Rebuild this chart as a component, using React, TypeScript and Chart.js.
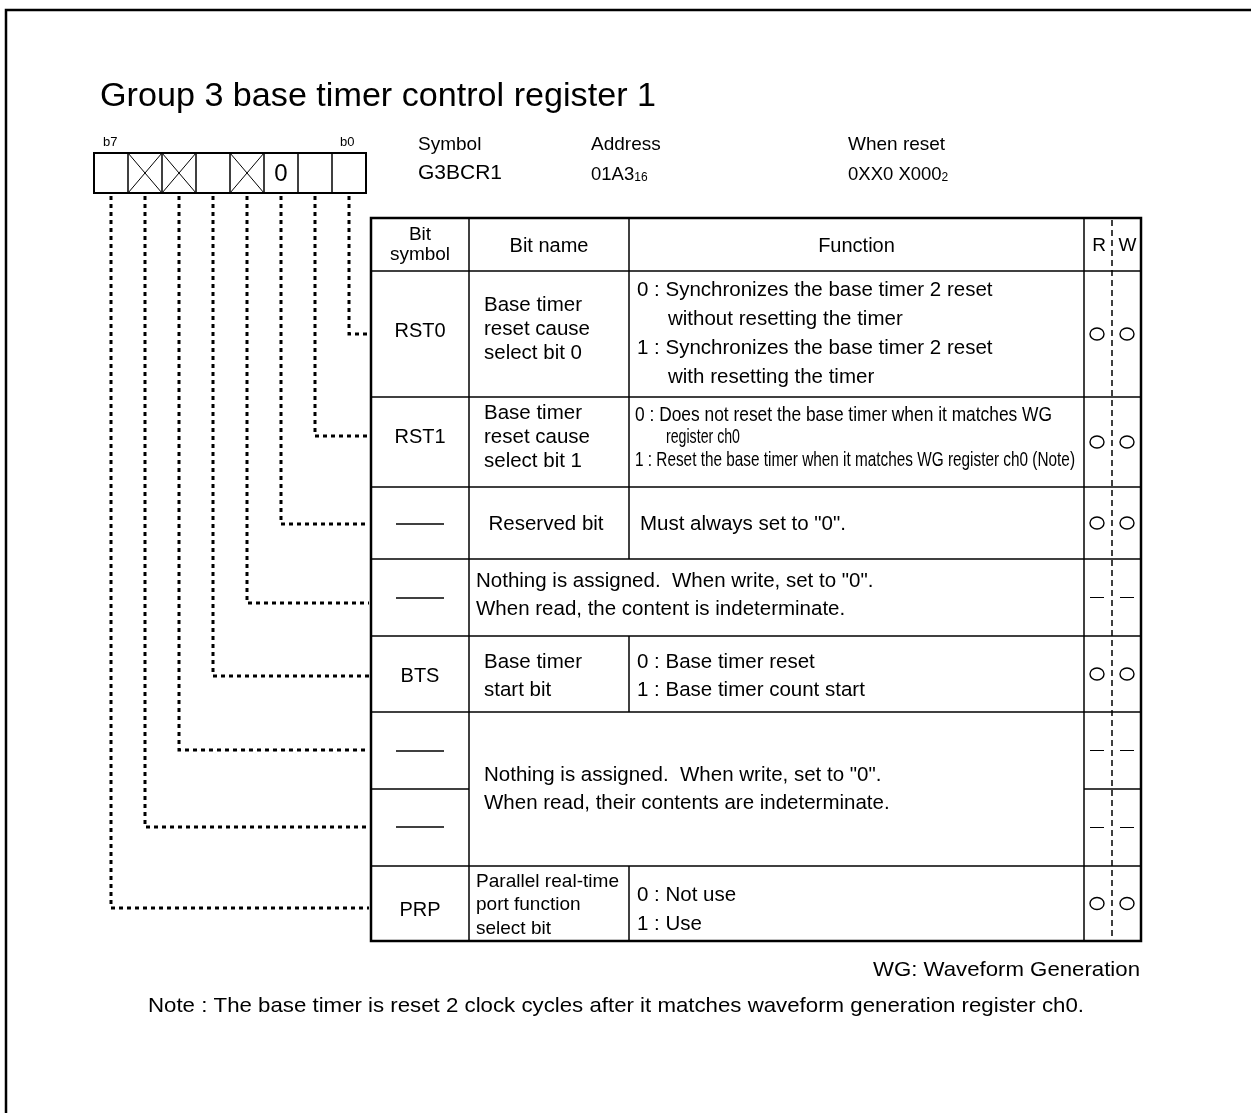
import React, { useEffect, useRef } from 'react';
import { Chart, registerables } from 'chart.js';

Chart.register(...registerables);

// ---------- data ----------
const titleText = 'Group 3 base timer control register 1';
const bitEndLabels = ['b7', 'b0'];
const bitCells = ['', 'X', 'X', '', 'X', '0', '', '']; // b7 -> b0
const infoCaptions = ['Symbol', 'Address', 'When reset'];
const infoValues = ['G3BCR1', '01A3', '0XX0 X000'];
const infoSubscripts = ['', '16', '2'];
const headerLabels = ['Bit', 'symbol', 'Bit name', 'Function', 'R', 'W'];
// rows ordered b0 -> b7
const rowSymbols = ['RST0', 'RST1', '', '', 'BTS', '', '', 'PRP'];
const bitNames = [
  ['Base timer', 'reset cause', 'select bit 0'],
  ['Base timer', 'reset cause', 'select bit 1'],
  ['Reserved bit'],
  [],
  ['Base timer', 'start bit'],
  [],
  [],
  ['Parallel real-time', 'port function', 'select bit'],
];
const functionLines = [
  ['0 : Synchronizes the base timer 2 reset', 'without resetting the timer', '1 : Synchronizes the base timer 2 reset', 'with resetting the timer'],
  ['0 : Does not reset the base timer when it matches WG', 'register ch0', '1 : Reset the base timer when it matches WG register ch0 (Note)'],
  ['Must always set to "0".'],
  [],
  ['0 : Base timer reset', '1 : Base timer count start'],
  [],
  [],
  ['0 : Not use', '1 : Use'],
];
const mergedNotes = [
  ['Nothing is assigned.  When write, set to "0".', 'When read, the content is indeterminate.'],
  ['Nothing is assigned.  When write, set to "0".', 'When read, their contents are indeterminate.'],
];
const readAccess = ['O', 'O', 'O', '-', 'O', '-', '-', 'O'];
const writeAccess = ['O', 'O', 'O', '-', 'O', '-', '-', 'O'];
const footnotes = ['WG: Waveform Generation', 'Note : The base timer is reset 2 clock cycles after it matches waveform generation register ch0.'];

// ---------- layout ----------
const W = 1251;
const H = 1113;
const FONT = '"Liberation Sans", Arial, Helvetica, sans-serif';
const boxL = 94, boxT = 153, boxB = 193, cellW = 34;
const rowsY = [218, 271, 397, 487, 559, 636, 712, 789, 866, 941];
const colX = [371, 469, 629, 1084, 1141];
const rwMid = 1112;
const leaderY = [334, 436, 524, 603, 676, 750, 827, 908];
const symbolY = [331, 437, 524, 598, 676, 751, 827, 910];
const nameY = [[305, 329, 353], [413, 437, 461], [524], [], [662, 690], [], [], [882, 905, 929]];
const fnY = [[290, 319, 348, 377], [415, 437, 460], [524], [], [662, 690], [], [], [895, 924]];
const fnFit = [null, [417, 74, 440], null, null, null, null, null, null];
const mergedY = [[581, 609], [775, 803]];

const diagramPlugin = {
  id: 'registerDiagram',
  beforeDraw(chart: any) {
    const ctx = chart.ctx;
    ctx.save();
    ctx.fillStyle = '#fff';
    ctx.fillRect(0, 0, chart.width, chart.height);
    ctx.restore();
  },
  afterDraw(chart: any) {
    const ctx: CanvasRenderingContext2D = chart.ctx;
    const sx = chart.scales.x;
    const sy = chart.scales.y;
    const X = (v: number) => sx.getPixelForValue(v);
    const Y = (v: number) => sy.getPixelForValue(v);

    const line = (x1: number, y1: number, x2: number, y2: number, lw: number, dash: number[] = []) => {
      ctx.save();
      ctx.strokeStyle = '#000';
      ctx.lineWidth = lw;
      ctx.setLineDash(dash);
      ctx.beginPath();
      ctx.moveTo(X(x1), Y(y1));
      ctx.lineTo(X(x2), Y(y2));
      ctx.stroke();
      ctx.restore();
    };
    const rect = (x1: number, y1: number, x2: number, y2: number, lw: number) => {
      ctx.save();
      ctx.strokeStyle = '#000';
      ctx.lineWidth = lw;
      ctx.strokeRect(X(x1), Y(y1), X(x2) - X(x1), Y(y2) - Y(y1));
      ctx.restore();
    };
    const text = (s: string, x: number, y: number, size: number, align: CanvasTextAlign = 'left', fit: number | null = null, baseline: CanvasTextBaseline = 'middle') => {
      ctx.save();
      ctx.font = `${size}px ${FONT}`;
      ctx.fillStyle = '#000';
      ctx.textBaseline = baseline;
      ctx.textAlign = align;
      if (fit) {
        const w = ctx.measureText(s).width;
        ctx.translate(X(x), Y(y));
        ctx.scale(fit / w, 1);
        ctx.fillText(s, 0, 0);
      } else {
        ctx.fillText(s, X(x), Y(y));
      }
      ctx.restore();
    };
    const textSub = (s: string, sub: string, x: number, y: number, size: number, subSize: number) => {
      ctx.save();
      ctx.font = `${size}px ${FONT}`;
      ctx.fillStyle = '#000';
      ctx.textBaseline = 'alphabetic';
      ctx.fillText(s, X(x), Y(y));
      const w = ctx.measureText(s).width;
      ctx.font = `${subSize}px ${FONT}`;
      ctx.fillText(sub, X(x) + w, Y(y) + 1);
      ctx.restore();
    };

    // outer frame
    rect(6, 10, 1262, 1125, 2.5);

    // title
    text(titleText, 100, 106, 33, 'left', 556, 'alphabetic');

    // bit labels
    text(bitEndLabels[0], boxL + 9, 142, 13);
    text(bitEndLabels[1], boxL + 7 * cellW + 8, 142, 13);

    // bit boxes
    bitCells.forEach((c, i) => {
      const x1 = boxL + i * cellW;
      const x2 = x1 + cellW;
      if (i > 0) line(x1, boxT, x1, boxB, 1.5);
      if (c === 'X') {
        line(x1, boxT, x2, boxB, 1);
        line(x1, boxB, x2, boxT, 1);
      } else if (c) {
        text(c, x1 + cellW / 2, boxT + 21, 24, 'center');
      }
    });
    rect(boxL, boxT, boxL + 8 * cellW, boxB, 2);

    // info block
    const infoX = [418, 591, 848];
    infoCaptions.forEach((c, i) => text(c, infoX[i], 145, 19));
    text(infoValues[0], infoX[0], 173, 21);
    textSub(infoValues[1], infoSubscripts[1], infoX[1], 180, 18.5, 12);
    textSub(infoValues[2], infoSubscripts[2], infoX[2], 180, 18.5, 12);

    // leader lines (b0..b7)
    for (let b = 0; b < 8; b++) {
      const cx = boxL + cellW / 2 + (7 - b) * cellW;
      const ly = leaderY[b];
      ctx.save();
      ctx.strokeStyle = '#000';
      ctx.lineWidth = 3;
      ctx.setLineDash([4, 4]);
      ctx.beginPath();
      ctx.moveTo(X(cx), Y(boxB + 3));
      ctx.lineTo(X(cx), Y(ly));
      ctx.lineTo(X(colX[0] - 2), Y(ly));
      ctx.stroke();
      ctx.restore();
    }

    // table grid
    const [c0, c1, c2, c3, c4] = colX;
    for (let r = 1; r <= 8; r++) {
      const y = rowsY[r];
      if (r === 7) {
        line(c0, y, c1, y, 1.5);
        line(c3, y, c4, y, 1.5);
      } else {
        line(c0, y, c4, y, 1.5);
      }
    }
    line(c1, rowsY[0], c1, rowsY[9], 1.5);
    line(c3, rowsY[0], c3, rowsY[9], 1.5);
    // function column divider where present
    line(c2, rowsY[0], c2, rowsY[4], 1.5);
    line(c2, rowsY[5], c2, rowsY[6], 1.5);
    line(c2, rowsY[8], c2, rowsY[9], 1.5);
    line(rwMid, rowsY[0] + 2, rwMid, rowsY[9], 1.5, [6, 4]);
    rect(c0, rowsY[0], c4, rowsY[9], 2.5);

    // header
    text(headerLabels[0], (c0 + c1) / 2, 235, 19, 'center');
    text(headerLabels[1], (c0 + c1) / 2, 255, 19, 'center');
    text(headerLabels[2], (c1 + c2) / 2, 246, 20, 'center');
    text(headerLabels[3], (c2 + c3) / 2, 246, 20, 'center');
    text(headerLabels[4], (c3 + rwMid) / 2 + 1, 246, 19, 'center');
    text(headerLabels[5], (rwMid + c4) / 2 + 1, 246, 19, 'center');

    // rows
    for (let r = 0; r < 8; r++) {
      const sym = rowSymbols[r];
      if (sym) text(sym, (c0 + c1) / 2, symbolY[r], 20, 'center');
      else line(396, symbolY[r], 444, symbolY[r], 1.5);

      const names = bitNames[r];
      names.forEach((n, k) => {
        if (r === 2) text(n, 546, nameY[r][k], 20.5, 'center');
        else if (r === 7) text(n, 476, nameY[r][k], 19, 'left', k === 0 ? 143 : null);
        else text(n, 484, nameY[r][k], 20.5);
      });

      const fns = functionLines[r];
      const fits = fnFit[r];
      fns.forEach((f, k) => {
        const indent = /^\d :/.test(f) || r === 2 ? 0 : 31;
        const baseX = r === 2 ? 640 : r === 1 ? 635 : 637;
        if (fits) text(f, baseX + indent, fnY[r][k], 20.5, 'left', fits[k]);
        else text(f, baseX + indent, fnY[r][k], 20.5);
      });

      // R / W marks
      const cy = (rowsY[r + 1] + rowsY[r + 2]) / 2;
      const marks = [readAccess[r], writeAccess[r]];
      const mx = [1097, 1127];
      marks.forEach((m, k) => {
        if (m === 'O') {
          ctx.save();
          ctx.strokeStyle = '#000';
          ctx.lineWidth = 1.4;
          ctx.beginPath();
          ctx.ellipse(X(mx[k]), Y(cy), 7, 6, 0, 0, Math.PI * 2);
          ctx.stroke();
          ctx.restore();
        } else {
          line(mx[k] - 7, cy, mx[k] + 7, cy, 1);
        }
      });
    }

    // merged note cells
    mergedNotes[0].forEach((s, k) => text(s, 476, mergedY[0][k], 20.5));
    mergedNotes[1].forEach((s, k) => text(s, 484, mergedY[1][k], 20.5));

    // footnotes
    text(footnotes[0], 1140, 970, 21, 'right', 267);
    text(footnotes[1], 148, 1006, 21, 'left', 936);
  },
};

export default function App() {
  const ref = useRef<HTMLCanvasElement>(null);
  useEffect(() => {
    const canvas = ref.current;
    if (!canvas) return;
    const chart = new Chart(canvas, {
      type: 'scatter',
      data: { datasets: [{ data: [] }] },
      options: {
        animation: false,
        responsive: false,
        devicePixelRatio: 1,
        events: [],
        layout: { padding: 0 },
        plugins: { legend: { display: false }, tooltip: { enabled: false } },
        scales: {
          x: { type: 'linear', min: 0, max: W, display: false },
          y: { type: 'linear', min: 0, max: H, reverse: true, display: false },
        },
      },
      plugins: [diagramPlugin],
    } as any);
    return () => chart.destroy();
  }, []);
  return (
    <div style={{ position: 'fixed', left: 0, top: 0, width: W, height: H, background: '#fff' }}>
      <canvas ref={ref} width={W} height={H} style={{ display: 'block' }} />
    </div>
  );
}
